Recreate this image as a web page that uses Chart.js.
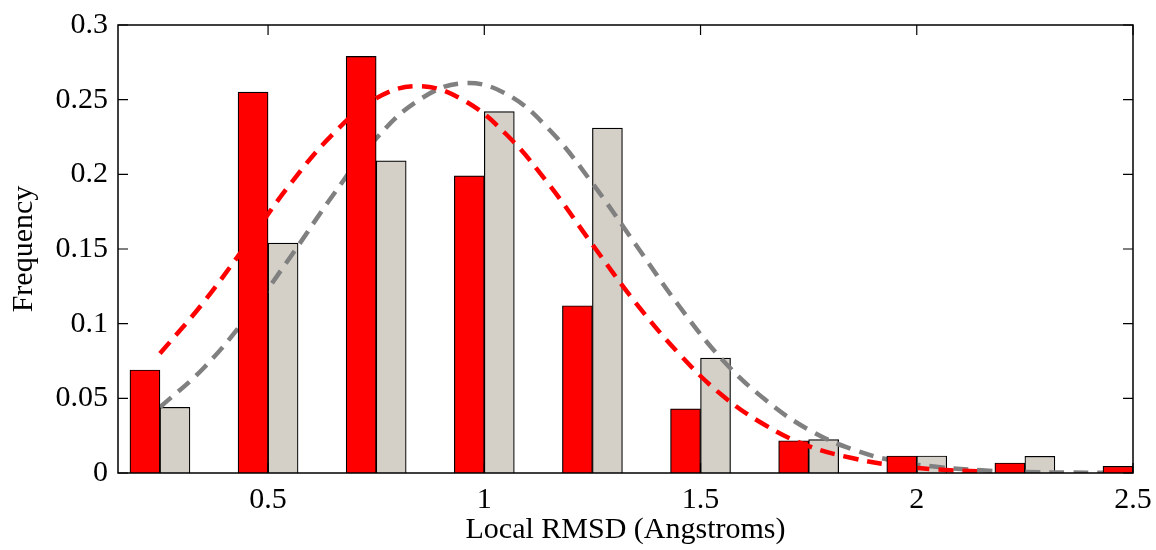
<!DOCTYPE html>
<html lang="en">
<head>
<meta charset="UTF-8">
<title>Local RMSD histogram</title>
<script src="https://cdn.jsdelivr.net/npm/chart.js"></script>
<style>
  html, body { margin: 0; padding: 0; background: #fff; }
  #wrap { width: 1156px; height: 550px; }
</style>
</head>
<body>
<div id="wrap"><canvas id="rmsdChart"></canvas></div>
<script>
// histogram bins
const binCenters = [0.25, 0.5, 0.75, 1.0, 1.25, 1.5, 1.75, 2.0, 2.25, 2.5];
const redFreq  = [0.069, 0.255, 0.279, 0.199, 0.112, 0.043, 0.0216, 0.0114, 0.0067, 0.0045];
const grayFreq = [0.044, 0.154, 0.209, 0.242, 0.231, 0.077, 0.0223, 0.0114, 0.0112, null];

// fitted curves
const redCurveX = [0.25, 0.35, 0.45, 0.55, 0.65, 0.75, 0.85, 0.95, 1.05, 1.15, 1.25, 1.35, 1.45, 1.55, 1.65, 1.75, 1.85, 1.95, 2.05, 2.15];
const redCurveY = [0.080, 0.114, 0.153, 0.193, 0.227, 0.251, 0.259, 0.250, 0.227, 0.193, 0.153, 0.114, 0.080, 0.052, 0.032, 0.018, 0.010, 0.005, 0.0023, 0.001];
const grayCurveX = [0.25, 0.35, 0.45, 0.55, 0.65, 0.75, 0.85, 0.95, 1.05, 1.15, 1.25, 1.35, 1.45, 1.55, 1.65, 1.75, 1.85, 1.95, 2.05, 2.15, 2.25, 2.35, 2.45];
const grayCurveY = [0.044, 0.070, 0.104, 0.144, 0.186, 0.224, 0.250, 0.261, 0.254, 0.230, 0.194, 0.153, 0.112, 0.076, 0.049, 0.029, 0.016, 0.008, 0.004, 0.0018, 0.0007, 0.0003, 0.0001];

// axes
const xTicks = [0.5, 1, 1.5, 2, 2.5];
const xTickLabels = ['0.5', '1', '1.5', '2', '2.5'];
const yTicks = [0, 0.05, 0.1, 0.15, 0.2, 0.25, 0.3];
const yTickLabels = ['0', '0.05', '0.1', '0.15', '0.2', '0.25', '0.3'];

const toPoints = (xs, ys) => xs.map((x, i) => ({ x: x, y: ys[i] }));
const serif = 'Liberation Serif, Times New Roman, serif';

// MATLAB style box with inward ticks
const boxPlugin = {
  id: 'box',
  afterDraw(chart) {
    const { ctx, chartArea: a, scales } = chart;
    ctx.save();
    ctx.strokeStyle = '#000';
    ctx.lineWidth = 1.5;
    ctx.strokeRect(a.left, a.top, a.right - a.left, a.bottom - a.top);
    ctx.lineWidth = 1.2;
    ctx.beginPath();
    xTicks.forEach(v => {
      const px = scales.x.getPixelForValue(v);
      ctx.moveTo(px, a.bottom); ctx.lineTo(px, a.bottom - 10);
      ctx.moveTo(px, a.top); ctx.lineTo(px, a.top + 10);
    });
    yTicks.forEach(v => {
      const py = scales.y.getPixelForValue(v);
      ctx.moveTo(a.left, py); ctx.lineTo(a.left + 10, py);
      ctx.moveTo(a.right, py); ctx.lineTo(a.right - 10, py);
    });
    ctx.stroke();
    ctx.restore();
  }
};

new Chart(document.getElementById('rmsdChart'), {
  type: 'bar',
  data: {
    datasets: [
      {
        type: 'line',
        data: toPoints(redCurveX, redCurveY),
        borderColor: '#ff0000',
        borderWidth: 4.5,
        borderDash: [15, 9],
        pointRadius: 0,
        tension: 0.4,
        fill: false,
        order: 0
      },
      {
        data: toPoints(binCenters, redFreq),
        backgroundColor: '#ff0000',
        borderColor: '#000',
        borderWidth: 1.2,
        barThickness: 30,
        order: 1
      },
      {
        type: 'line',
        data: toPoints(grayCurveX, grayCurveY),
        borderColor: '#808080',
        borderWidth: 4.5,
        borderDash: [15, 9],
        pointRadius: 0,
        tension: 0.4,
        fill: false,
        order: 2
      },
      {
        data: toPoints(binCenters, grayFreq),
        backgroundColor: '#d4d0c8',
        borderColor: '#000',
        borderWidth: 1.2,
        barThickness: 30,
        order: 3
      }
    ]
  },
  options: {
    responsive: true,
    maintainAspectRatio: false,
    animation: false,
    layout: { padding: { top: 25, right: 23, left: 0, bottom: 0 } },
    plugins: {
      legend: { display: false },
      tooltip: { enabled: false }
    },
    scales: {
      x: {
        type: 'linear',
        min: 0.153,
        max: 2.5,
        offset: false,
        grid: { display: false, drawTicks: false },
        border: { display: false },
        afterBuildTicks: s => { s.ticks = xTicks.map(v => ({ value: v })); },
        afterFit: s => { s.height = 77; s.paddingLeft = 0; s.paddingRight = 0; },
        ticks: {
          padding: 9,
          color: '#000',
          font: { family: serif, size: 30 },
          maxRotation: 0,
          callback: (v) => xTickLabels[xTicks.indexOf(v)]
        },
        title: {
          display: true,
          text: 'Local RMSD (Angstroms)',
          color: '#000',
          font: { family: serif, size: 30 },
          padding: { top: 0, bottom: 2 }
        }
      },
      y: {
        min: 0,
        max: 0.3,
        grid: { display: false, drawTicks: false },
        border: { display: false },
        afterBuildTicks: s => { s.ticks = yTicks.map(v => ({ value: v })); },
        afterFit: s => { s.width = 118; s.paddingTop = 0; s.paddingBottom = 0; },
        ticks: {
          padding: 10,
          color: '#000',
          font: { family: serif, size: 30 },
          callback: (v) => yTickLabels[yTicks.indexOf(v)]
        },
        title: {
          display: true,
          text: 'Frequency',
          color: '#000',
          font: { family: serif, size: 30 },
          padding: { top: 6, bottom: 0 }
        }
      }
    }
  },
  plugins: [boxPlugin]
});
</script>
</body>
</html>
